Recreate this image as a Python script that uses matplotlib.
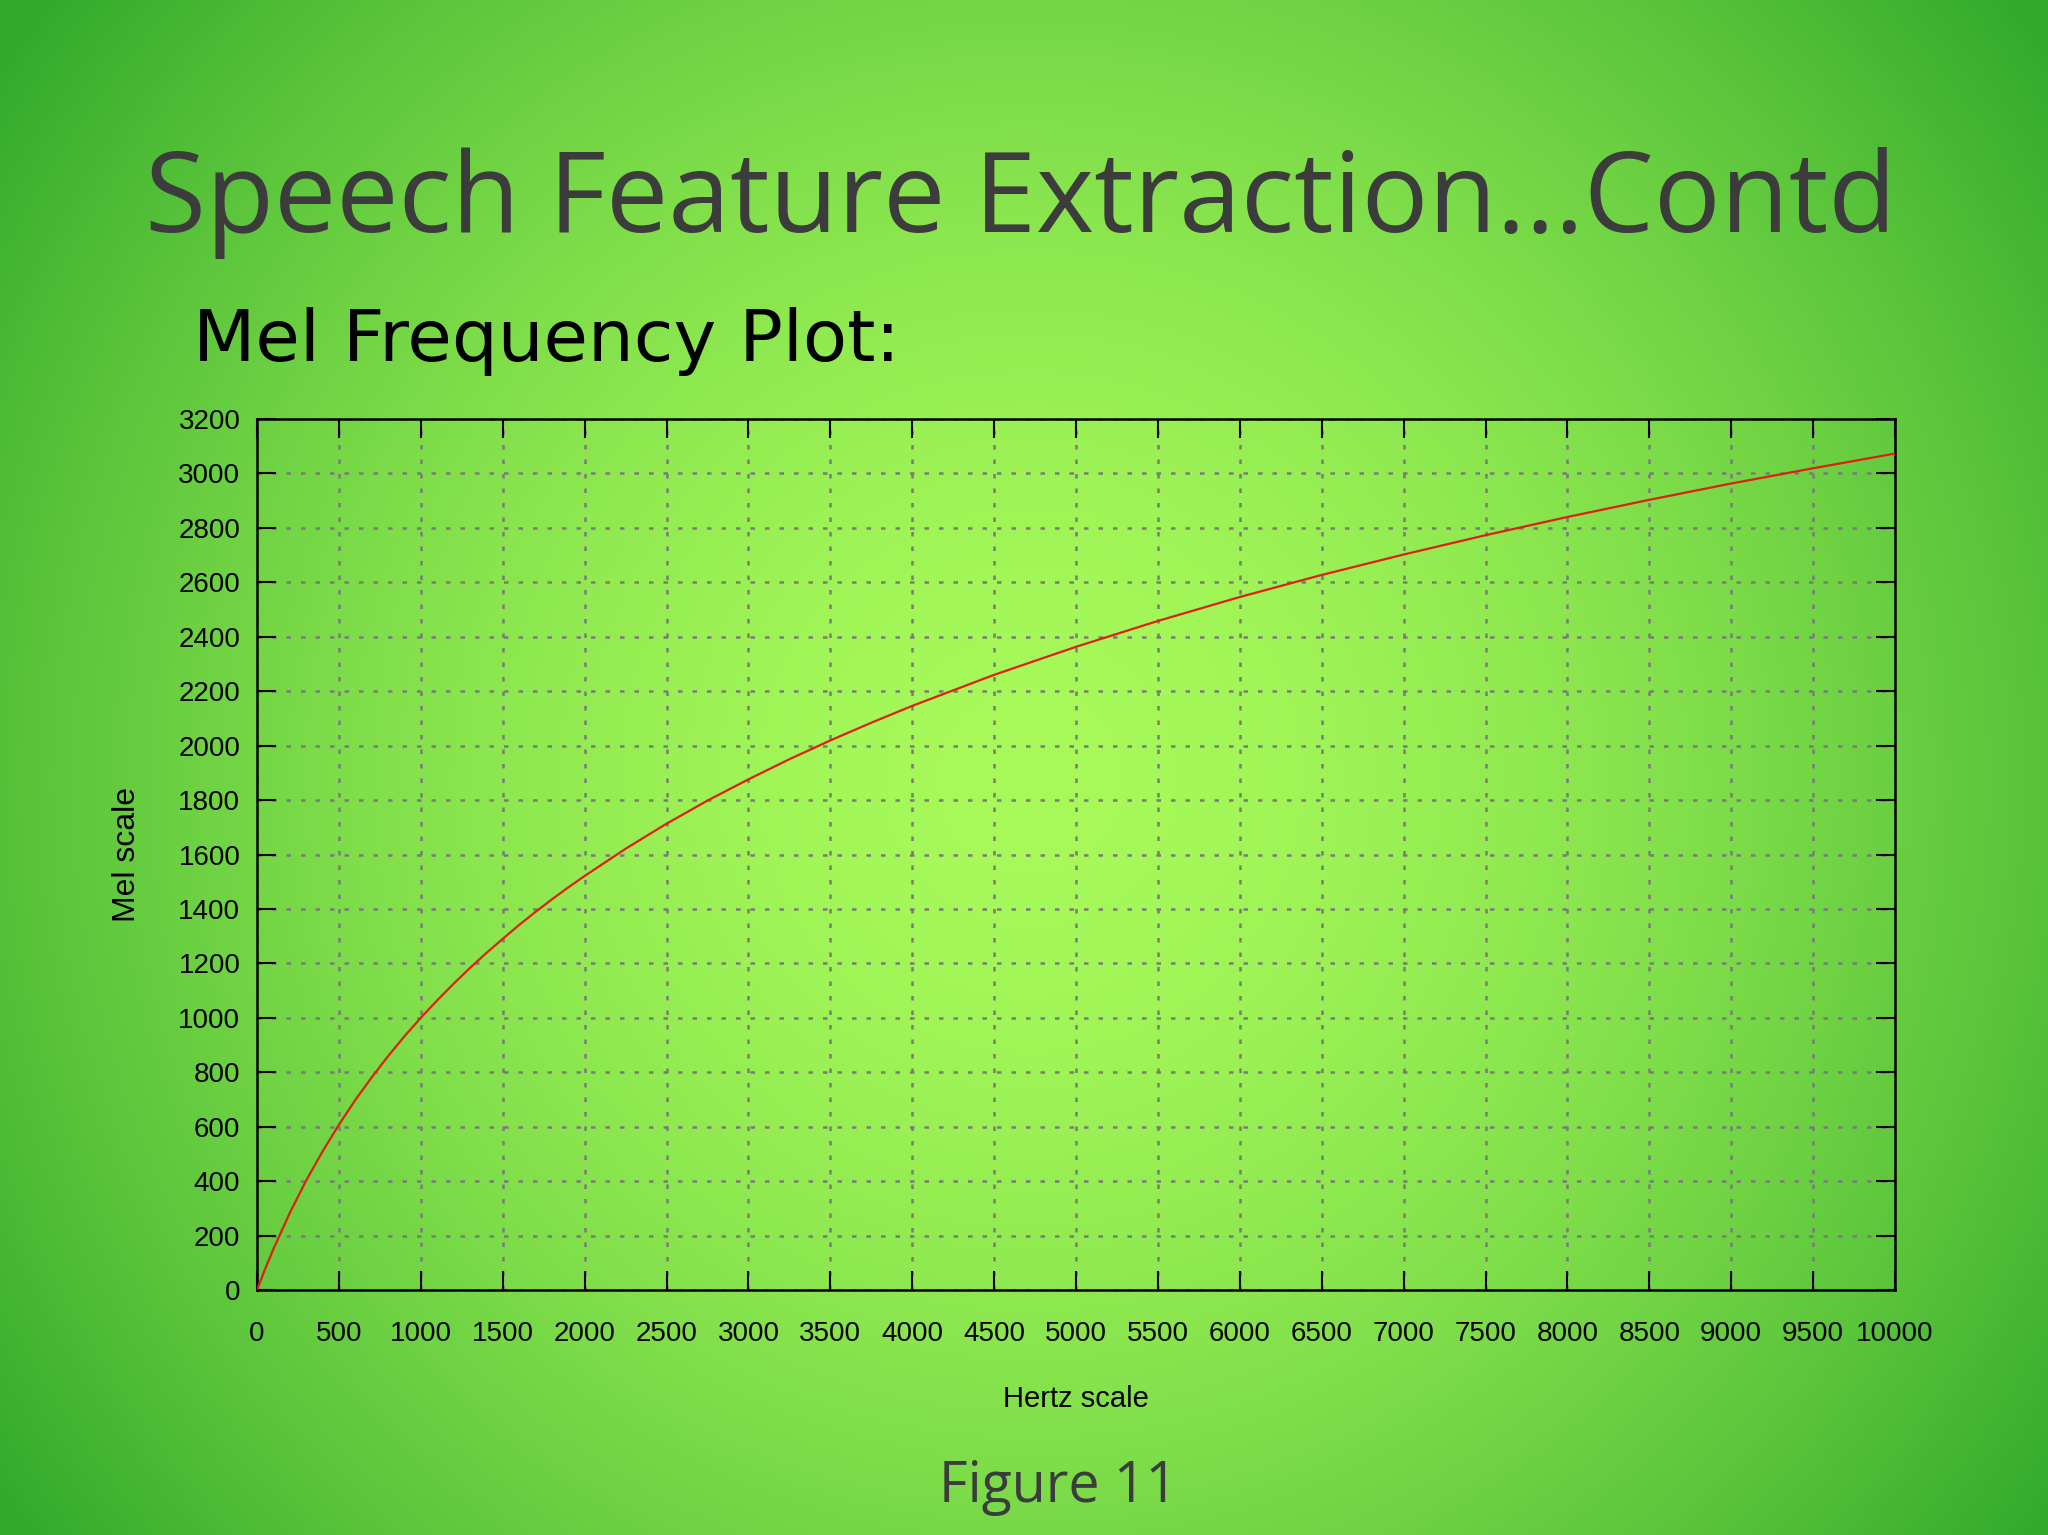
import numpy as np
import matplotlib
matplotlib.use("Agg")
import matplotlib.pyplot as plt

# valeurs (Hz -> Mel)
hertz = [0, 50, 100, 200, 300, 400, 500, 600, 700, 800, 900, 1000, 1100, 1200,
         1300, 1400, 1500, 1600, 1700, 1800, 1900, 2000, 2250, 2500, 2750, 3000,
         3250, 3500, 3750, 4000, 4500, 5000, 5500, 6000, 6500, 7000, 7500, 8000,
         8500, 9000, 9500, 10000]
mel = [0, 78, 150, 283, 402, 509, 607, 698, 781, 859, 932, 1000, 1064, 1125,
       1183, 1238, 1290, 1341, 1389, 1435, 1479, 1521, 1621, 1713, 1798, 1876,
       1950, 2019, 2084, 2146, 2260, 2363, 2458, 2546, 2627, 2702, 2773, 2840,
       2903, 2963, 3019, 3073]

x_ticks = list(range(0, 10001, 500))
y_ticks = list(range(0, 3201, 200))

titre = "Speech Feature Extraction...Contd"
sous_titre = "Mel Frequency Plot:"
legende_fig = "Figure 11"

W, H = 2048, 1535
fig = plt.figure(figsize=(W / 100, H / 100), dpi=100)

# fond : dégradé radial vert
yy, xx = np.mgrid[0:H, 0:W]
r = np.sqrt((xx - 1030) ** 2 + (yy - 780) ** 2)
f = np.clip(r / 1250, 0, 1) ** 1.7
centre = np.array([168, 250, 90]) / 255
bord = np.array([52, 170, 44]) / 255
img = centre + (bord - centre) * f[..., None]
bg = fig.add_axes([0, 0, 1, 1])
bg.imshow(img, extent=[0, W, H, 0], aspect="auto")
bg.set_xlim(0, W)
bg.set_ylim(H, 0)
bg.axis("off")

fig.text(1021 / W, 1 - 203 / H, titre, ha="center", va="center",
         fontsize=80, color="#3c3c3c", family="Open Sans")
fig.text(193 / W, 1 - 341 / H, sous_titre, ha="left", va="center",
         fontsize=52, color="black", family="DejaVu Sans")
fig.text(1058 / W, 1 - 1487 / H, legende_fig, ha="center", va="center",
         fontsize=40, color="#3c3c3c", family="Open Sans")

ax = fig.add_axes([257 / W, 1 - 1290 / H, (1895 - 257) / W, (1290 - 419) / H])
ax.set_facecolor("none")
ax.plot(hertz, mel, color="#e0200e", lw=1.6, zorder=3)
ax.set_xlim(0, 10000)
ax.set_ylim(0, 3200)
ax.set_xticks(x_ticks)
ax.set_yticks(y_ticks)

police = ["Liberation Sans", "DejaVu Sans"]
ax.set_xticklabels([str(v) for v in x_ticks], family=police, fontsize=20)
ax.set_yticklabels([str(v) for v in y_ticks], family=police, fontsize=20)
ax.tick_params(direction="in", length=14, width=1.5, top=True, right=True,
               color="black")
ax.tick_params(axis="x", pad=22)
ax.tick_params(axis="y", pad=12)
for s in ax.spines.values():
    s.set_linewidth(1.8)
ax.grid(True, color="#7a7a7a", lw=1.8, linestyle=(0, (1.8, 4)))

ax.set_xlabel("Hertz scale", family=police, fontsize=21, labelpad=28)
fig.text(127 / W, 1 - 855 / H, "Mel scale", rotation=90, ha="center",
         va="center", fontsize=23, family=police)

fig.savefig("out.png", dpi=100)
